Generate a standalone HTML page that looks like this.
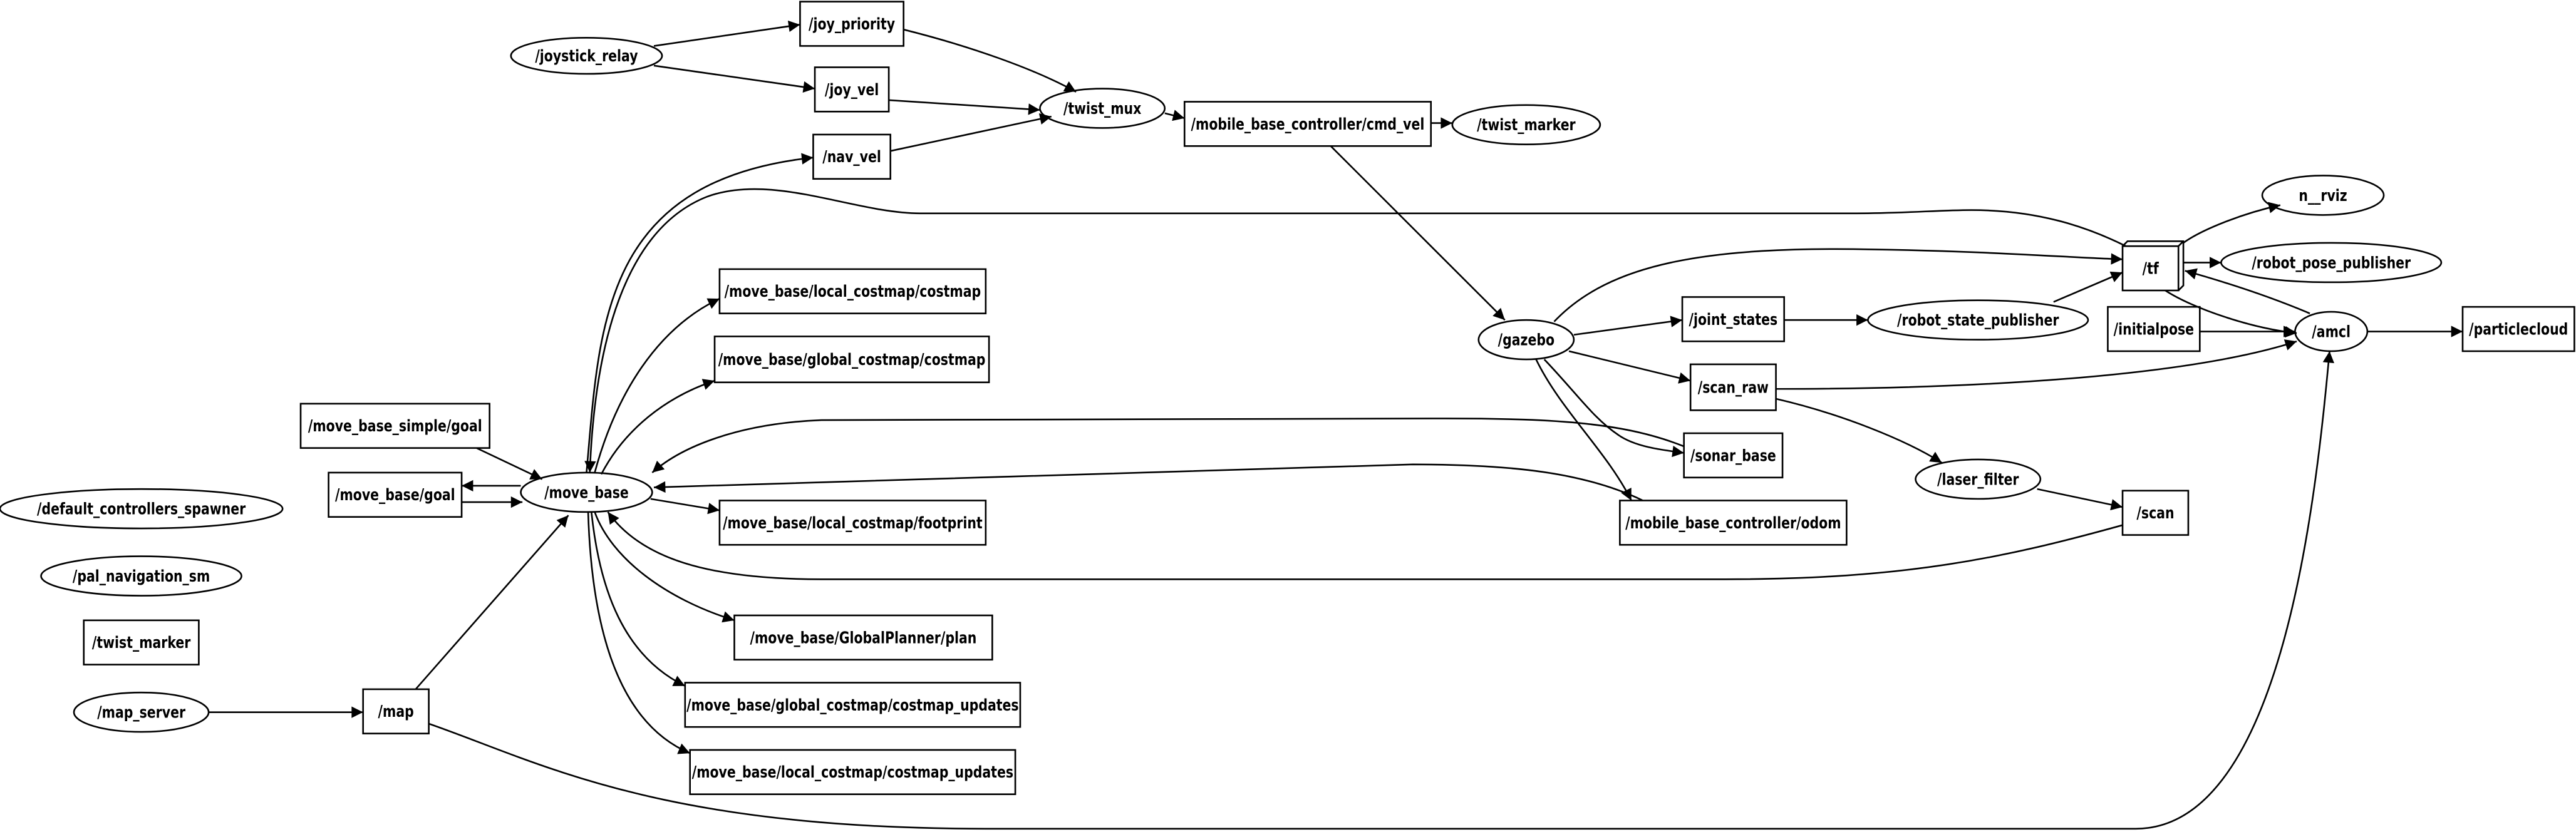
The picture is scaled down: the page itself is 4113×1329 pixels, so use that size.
<!DOCTYPE html>
<html><head><meta charset="utf-8"><style>
html,body{margin:0;padding:0;background:#fff;}
svg{display:block;}
text{font-family:"DejaVu Sans","Liberation Sans",sans-serif;font-weight:bold;font-size:10px;text-anchor:middle;dominant-baseline:central;fill:#000;transform-box:fill-box;transform-origin:center;transform:scaleX(0.78);}
.n{fill:none;stroke:#000;stroke-width:1;}
.e{fill:none;stroke:#000;stroke-width:1;marker-end:url(#a);}
</style></head><body>
<svg width="4113" height="1329" viewBox="0 0 1568 507" preserveAspectRatio="none" xmlns="http://www.w3.org/2000/svg">
<defs><marker id="a" viewBox="0 0 10 10" refX="10" refY="5" markerWidth="10" markerHeight="7" markerUnits="userSpaceOnUse" orient="auto"><path d="M0,0 L10,5 L0,10 z" fill="#000"/></marker></defs>
<rect width="1568" height="507" fill="#fff"/>
<ellipse class="n" cx="357" cy="34" rx="46" ry="11"/><text x="357" y="34">/joystick_relay</text>
<rect class="n" x="487" y="1" width="63" height="27"/><text x="518.5" y="14.5">/joy_priority</text>
<rect class="n" x="496" y="41" width="45" height="27"/><text x="518.5" y="54.5">/joy_vel</text>
<rect class="n" x="495" y="82" width="47" height="27"/><text x="518.5" y="95.5">/nav_vel</text>
<ellipse class="n" cx="671" cy="66" rx="38" ry="12"/><text x="671" y="66">/twist_mux</text>
<rect class="n" x="721" y="62" width="150" height="27"/><text x="796" y="75.5">/mobile_base_controller/cmd_vel</text>
<ellipse class="n" cx="929" cy="76" rx="45" ry="12"/><text x="929" y="76">/twist_marker</text>
<rect class="n" x="438" y="164" width="162" height="27"/><text x="519" y="177.5">/move_base/local_costmap/costmap</text>
<rect class="n" x="435" y="205" width="167" height="28"/><text x="518.5" y="219">/move_base/global_costmap/costmap</text>
<rect class="n" x="183" y="246" width="115" height="27"/><text x="240.5" y="259.5">/move_base_simple/goal</text>
<rect class="n" x="200" y="288" width="81" height="27"/><text x="240.5" y="301.5">/move_base/goal</text>
<ellipse class="n" cx="357" cy="300" rx="40" ry="12"/><text x="357" y="300">/move_base</text>
<rect class="n" x="438" y="305" width="162" height="27"/><text x="519" y="318.5">/move_base/local_costmap/footprint</text>
<ellipse class="n" cx="86" cy="310" rx="86" ry="12"/><text x="86" y="310">/default_controllers_spawner</text>
<ellipse class="n" cx="86" cy="351" rx="61" ry="12"/><text x="86" y="351">/pal_navigation_sm</text>
<rect class="n" x="51" y="378" width="70" height="27"/><text x="86" y="391.5">/twist_marker</text>
<ellipse class="n" cx="86" cy="434" rx="41" ry="12"/><text x="86" y="434">/map_server</text>
<rect class="n" x="221" y="420" width="40" height="27"/><text x="241" y="433.5">/map</text>
<rect class="n" x="447" y="375" width="157" height="27"/><text x="525.5" y="388.5">/move_base/GlobalPlanner/plan</text>
<rect class="n" x="417" y="416" width="204" height="27"/><text x="519" y="429.5">/move_base/global_costmap/costmap_updates</text>
<rect class="n" x="420" y="457" width="198" height="27"/><text x="519" y="470.5">/move_base/local_costmap/costmap_updates</text>
<ellipse class="n" cx="929" cy="207" rx="29" ry="12"/><text x="929" y="207">/gazebo</text>
<rect class="n" x="1024" y="181" width="62" height="27"/><text x="1055" y="194.5">/joint_states</text>
<ellipse class="n" cx="1204" cy="195" rx="67" ry="12"/><text x="1204" y="195">/robot_state_publisher</text>
<rect class="n" x="1029" y="222" width="52" height="28"/><text x="1055" y="236">/scan_raw</text>
<rect class="n" x="1025" y="264" width="60" height="27"/><text x="1055" y="277.5">/sonar_base</text>
<rect class="n" x="986" y="305" width="138" height="27"/><text x="1055" y="318.5">/mobile_base_controller/odom</text>
<rect class="n" x="1292" y="150" width="34" height="27"/><path class="n" d="M1292,150 L1295,147 L1329,147 L1329,174 L1326,177 M1326,150 L1329,147"/><text x="1309" y="163.5">/tf</text>
<ellipse class="n" cx="1414" cy="119" rx="37" ry="12"/><text x="1414" y="119">n__rviz</text>
<ellipse class="n" cx="1419" cy="160" rx="67" ry="12"/><text x="1419" y="160">/robot_pose_publisher</text>
<rect class="n" x="1283" y="187" width="56" height="27"/><text x="1311" y="200.5">/initialpose</text>
<ellipse class="n" cx="1419" cy="202" rx="22" ry="12"/><text x="1419" y="202">/amcl</text>
<rect class="n" x="1499" y="187" width="68" height="27"/><text x="1533" y="200.5">/particlecloud</text>
<ellipse class="n" cx="1204" cy="292" rx="38" ry="12"/><text x="1204" y="292">/laser_filter</text>
<rect class="n" x="1292" y="299" width="40" height="27"/><text x="1312" y="312.5">/scan</text>
<path class="e" d="M398,28 L487,15"/>
<path class="e" d="M398,40 L496,54"/>
<path class="e" d="M550,18 C590,28 630,42 655,56"/>
<path class="e" d="M541,61 L633,67"/>
<path class="e" d="M542,92 L640,71"/>
<path class="e" d="M709,69 L721,72"/>
<path class="e" d="M871,75 L884,75"/>
<path class="e" d="M810,89 L916,195"/>
<path class="e" d="M357,288 C365,200 365,110 495,96"/>
<path class="e" d="M1294,150 C1270,138 1240,128 1200,128 C1180,128 1160,130 1130,130 L560,130 C520,130 470,105 430,120 C380,140 362,210 359,288"/>
<path class="e" d="M362,288 C375,240 400,200 438,182"/>
<path class="e" d="M366,289 C380,262 405,242 435,232"/>
<path class="e" d="M290,273 L330,292"/>
<path class="e" d="M317,296 L281,296"/>
<path class="e" d="M281,306 L318,306"/>
<path class="e" d="M396,304 L438,311"/>
<path class="e" d="M1025,272 C990,258 950,255 880,255 L500,256 C450,258 415,272 397,288"/>
<path class="e" d="M1000,305 C965,288 920,283 860,283 L398,297"/>
<path class="e" d="M1292,320 C1220,340 1160,353 1050,353 L500,353 C430,353 390,340 370,312"/>
<path class="e" d="M362,312 C372,340 405,365 447,378"/>
<path class="e" d="M360,312 C365,360 380,400 417,418"/>
<path class="e" d="M358,312 C360,380 375,440 420,459"/>
<path class="e" d="M127,434 L221,434"/>
<path class="e" d="M253,420 L346,314"/>
<path class="e" d="M261,441 C330,465 400,505 600,505 L1300,505 C1390,505 1410,300 1418,214"/>
<path class="e" d="M946,196 C980,160 1040,150 1140,152 C1210,153 1260,157 1292,158"/>
<path class="e" d="M958,204 L1024,195"/>
<path class="e" d="M1086,195 L1137,195"/>
<path class="e" d="M1250,184 L1292,166"/>
<path class="e" d="M955,214 L1029,232"/>
<path class="e" d="M940,219 C960,240 970,255 985,265 C995,272 1010,274 1025,276"/>
<path class="e" d="M935,219 C950,250 978,275 993,305"/>
<path class="e" d="M1081,237 C1200,237 1330,230 1398,208"/>
<path class="e" d="M1081,243 C1120,252 1160,268 1182,282"/>
<path class="e" d="M1240,298 L1292,309"/>
<path class="e" d="M1329,148 C1340,140 1365,130 1388,125"/>
<path class="e" d="M1329,160 L1352,160"/>
<path class="e" d="M1318,177 C1335,188 1370,200 1398,203"/>
<path class="e" d="M1406,191 C1380,180 1355,172 1330,165"/>
<path class="e" d="M1339,202 L1397,202"/>
<path class="e" d="M1441,202 L1499,202"/>
</svg>
</body></html>
